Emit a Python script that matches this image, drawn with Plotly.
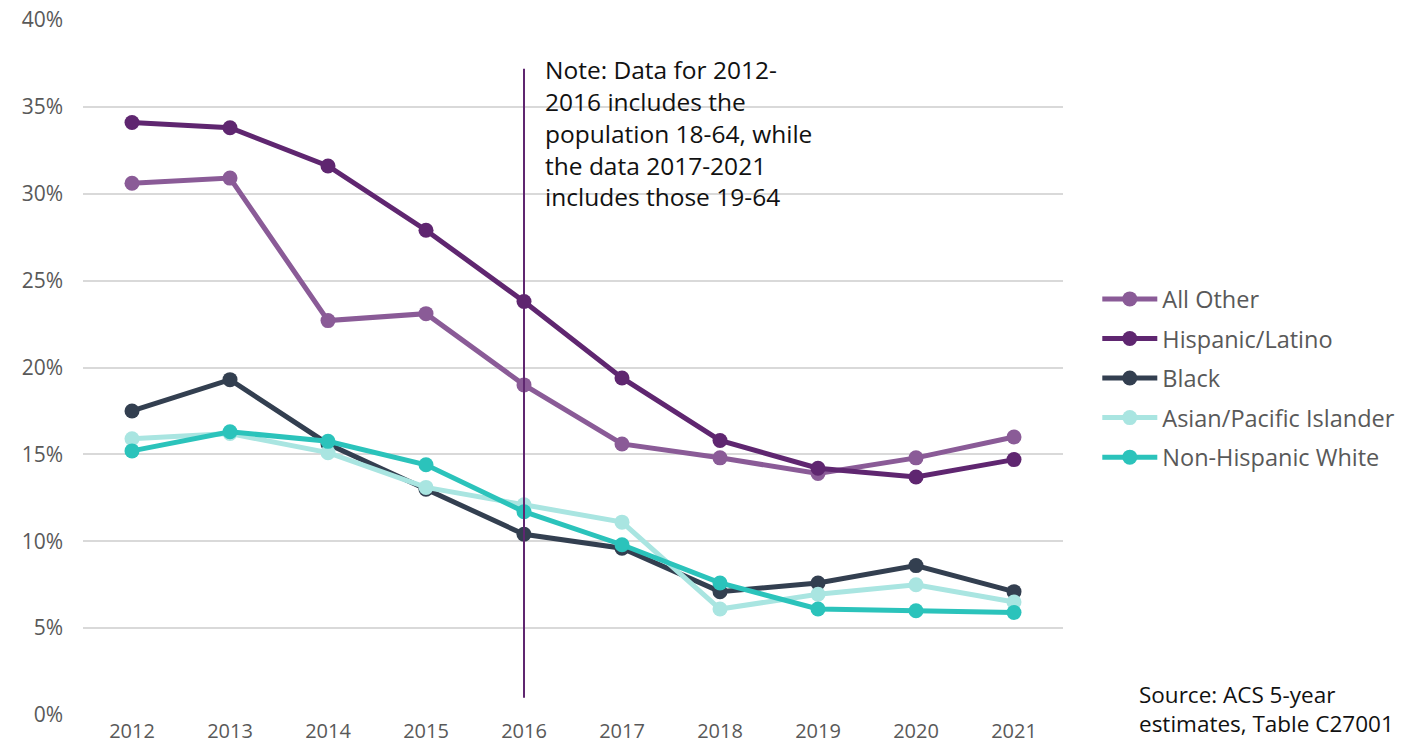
import plotly.graph_objects as go

years = ["2012", "2013", "2014", "2015", "2016", "2017", "2018", "2019", "2020", "2021"]

all_other = [30.6, 30.9, 22.7, 23.1, 19.0, 15.6, 14.8, 13.9, 14.8, 16.0]
hispanic_latino = [34.1, 33.8, 31.6, 27.9, 23.8, 19.4, 15.8, 14.2, 13.7, 14.7]
black = [17.5, 19.3, 15.6, 13.0, 10.4, 9.6, 7.1, 7.6, 8.6, 7.1]
asian_pacific = [15.9, 16.2, 15.1, 13.1, 12.1, 11.1, 6.1, 6.95, 7.5, 6.5]
non_hispanic_white = [15.2, 16.3, 15.75, 14.4, 11.7, 9.8, 7.6, 6.1, 6.0, 5.9]

series_names = ["All Other", "Hispanic/Latino", "Black", "Asian/Pacific Islander", "Non-Hispanic White"]
series_values = [all_other, hispanic_latino, black, asian_pacific, non_hispanic_white]
series_colors = ["#8a5b97", "#5f2670", "#333f50", "#a9e5e1", "#2bc3bb"]

y_ticks = [0, 5, 10, 15, 20, 25, 30, 35, 40]
y_tick_labels = [f"{v}%" for v in y_ticks]

note_text = ("Note: Data for 2012-<br>2016 includes the<br>population 18-64, while"
             "<br>the data 2017-2021<br>includes those 19-64")
source_text = "Source: ACS 5-year<br>estimates, Table C27001"

FONT = "'Open Sans', Lato, sans-serif"

fig = go.Figure()
for name, vals, color in zip(series_names, series_values, series_colors):
    fig.add_trace(go.Scatter(
        x=years, y=vals, name=name, mode="lines+markers",
        legendgroup=name,
        line=dict(color=color, width=5),
        marker=dict(color=color, size=15),
    ))

# vertical divider at 2016
fig.add_shape(type="line", xref="x", yref="y", x0=4, x1=4, y0=1.0, y1=37.2,
              line=dict(color="#5f2670", width=2), layer="above")

fig.add_annotation(text=note_text, xref="paper", yref="y", x=0.469, y=38.2,
                   xanchor="left", yanchor="top", align="left", showarrow=False,
                   font=dict(family=FONT, size=24.5, color="#111111"))

fig.add_annotation(text=source_text, xref="paper", yref="paper", x=1.075, y=-0.038,
                   xanchor="left", yanchor="bottom", align="left", showarrow=False,
                   font=dict(family=FONT, size=22.5, color="#111111"))

fig.update_layout(
    width=1418, height=747,
    margin=dict(l=83, r=355, t=20, b=32),
    paper_bgcolor="white", plot_bgcolor="white",
    font=dict(family=FONT, size=21, color="#595959"),
    xaxis=dict(type="category", range=[-0.5, 9.5], showgrid=False, zeroline=False,
               showline=False, ticks="", automargin=False, ticklabelstandoff=2,
               tickfont=dict(size=20, color="#595959")),
    yaxis=dict(range=[0, 40], tickvals=y_ticks, ticktext=y_tick_labels,
               showgrid=True, gridcolor="#d9d9d9", gridwidth=2, zeroline=False,
               showline=False, ticks="", ticklabelstandoff=19, automargin=False,
               tickfont=dict(size=21, color="#595959")),
    legend=dict(x=1.035, y=0.63, xanchor="left", yanchor="top",
                tracegroupgap=6, font=dict(size=23.5, color="#595959"),
                itemwidth=55, bgcolor="rgba(0,0,0,0)"),
)

fig.write_html("out.html")
